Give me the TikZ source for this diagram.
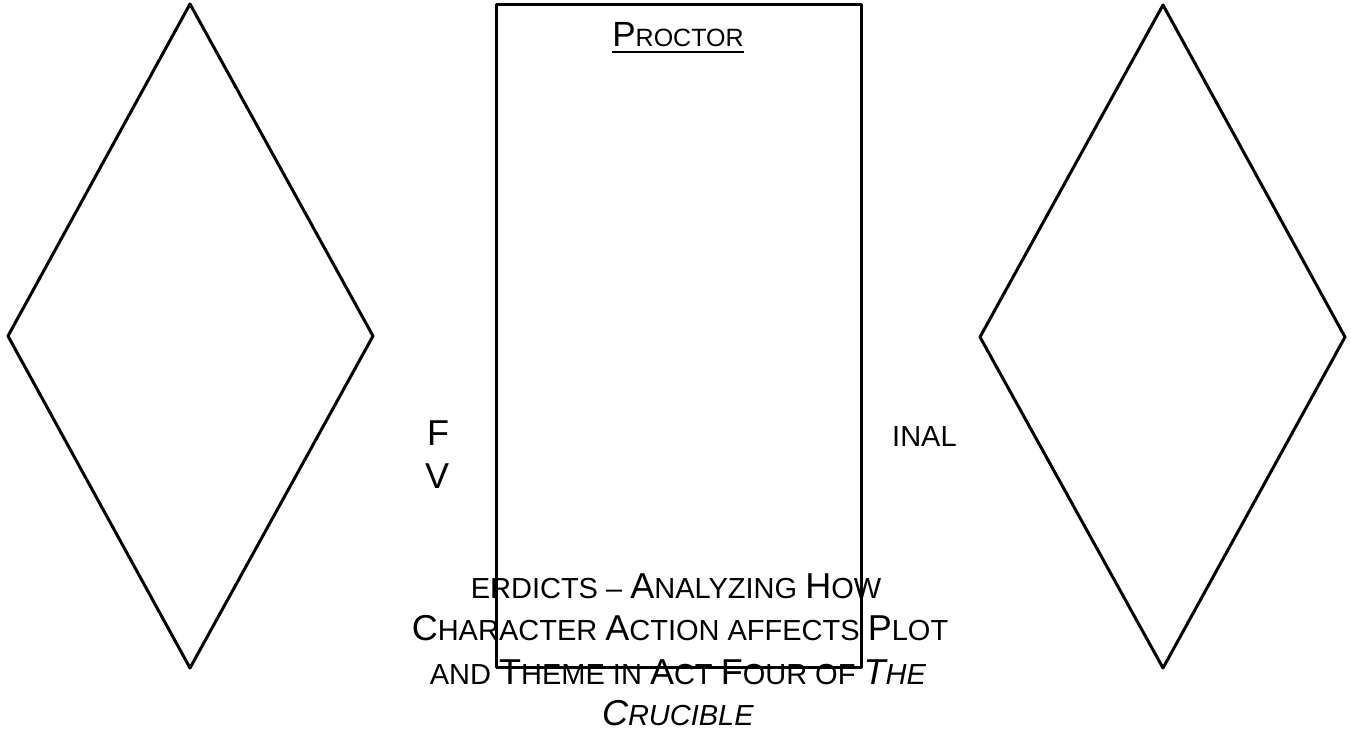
\documentclass[tikz,border=0pt]{standalone}
\usepackage{fontspec}
\setmainfont{Liberation Sans}
\newcommand\Bg[1]{{\fontsize{36}{42}\selectfont #1}}
\newcommand\Sm[1]{{\fontsize{29}{42}\selectfont #1}}
\newcommand\TBg[1]{{\fontsize{35}{42}\selectfont #1}}
\newcommand\TSm[1]{{\fontsize{25}{42}\selectfont #1}}
\begin{document}
\begin{tikzpicture}[x=1pt,y=-1pt,
  shapeline/.style={line width=3pt, line join=round},
  txt/.style={inner sep=0pt, font=\fontsize{29}{42}\selectfont},
  titletxt/.style={inner sep=0pt, font=\fontsize{25}{42}\selectfont}]
\useasboundingbox (0,0) rectangle (1351,733);
% left diamond
\draw[shapeline] (190,4) -- (373,336) -- (190,668) -- (8,336) -- cycle;
% right diamond
\draw[shapeline] (1163,5) -- (1345,337) -- (1163,668) -- (980,337) -- cycle;
% central box
\draw[shapeline] (496,5) rectangle (861,667);
% title
\node[titletxt, anchor=base] (proctor) at (678,47) {\TBg{P}\TSm{ROCTOR}};
\draw[line width=2pt] ([yshift=-5pt]proctor.base west) -- ([yshift=-5pt]proctor.base east);
% scattered text
\node[txt, anchor=base west] (f) at (427,445) {\Bg{F}};
\node[txt, anchor=base west] (v) at (425,488) {\Bg{V}};
\node[txt, anchor=base west] (inal) at (892,446) {\Sm{INAL}};
\node[txt, anchor=base] (l1) at (676,598) {\Sm{ERDICTS} – \Bg{A}\Sm{NALYZING} \Bg{H}\Sm{OW}};
\node[txt, anchor=base] (l2) at (680,640) {\Bg{C}\Sm{HARACTER} \Bg{A}\Sm{CTION} \Sm{AFFECTS} \Bg{P}\Sm{LOT}};
\node[txt, anchor=base] (l3) at (678,684) {\Sm{AND} \Bg{T}\Sm{HEME} \Sm{IN} \Bg{A}\Sm{CT} \Bg{F}\Sm{OUR} \Sm{OF} \textit{\Bg{T}\Sm{HE}}};
\node[txt, anchor=base] (l4) at (678,725) {\textit{\Bg{C}\Sm{RUCIBLE}}};
\end{tikzpicture}
\end{document}
